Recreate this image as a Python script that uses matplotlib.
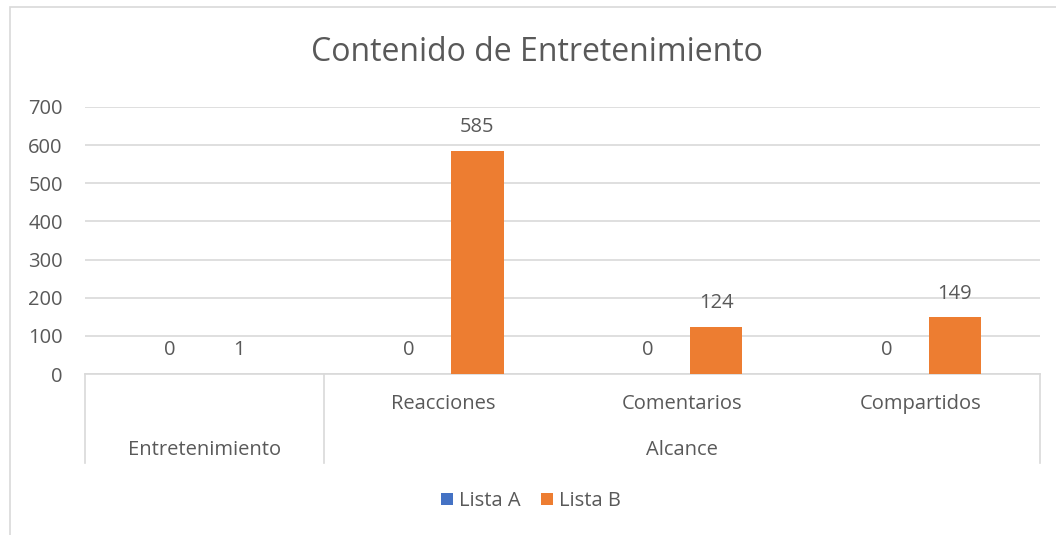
import matplotlib.pyplot as plt
import numpy as np
from matplotlib.patches import Rectangle

plt.rcParams['font.family'] = ['Open Sans', 'DejaVu Sans']

# datos
categorias = ['', 'Reacciones', 'Comentarios', 'Compartidos']
grupos = ['Entretenimiento', 'Alcance']
grupo_inicio = [0, 1]
grupo_fin = [0, 3]
lista_a = [0, 0, 0, 0]
lista_b = [1, 585, 124, 149]

gris = '#595959'
linea = '#D9D9D9'
azul = '#4472C4'
naranja = '#ED7D31'
fs = 14.5

fig = plt.figure(figsize=(10.56, 5.35), dpi=100)
ax = fig.add_axes([85 / 1056, 1 - 374 / 535, 955 / 1056, 267 / 535])

# borde del grafico
fig.patches.append(Rectangle((10 / 1056, -0.1), 1.2, 1.1 - 7 / 535, transform=fig.transFigure,
                             fill=False, edgecolor=linea, linewidth=1.2))

x = np.arange(len(categorias))
ancho = 0.22
desp = 0.143
barras_a = ax.bar(x - desp, lista_a, ancho, color=azul, label='Lista A', zorder=3)
barras_b = ax.bar(x + desp, lista_b, ancho, color=naranja, label='Lista B', zorder=3)

for barras in (barras_a, barras_b):
    for b in barras:
        h = b.get_height()
        ax.annotate(f'{h:g}', (b.get_x() + b.get_width() / 2, h), xytext=(0, 17),
                    textcoords='offset points', ha='center', va='center',
                    fontsize=fs, color=gris)

ax.set_ylim(0, 700)
ax.set_xlim(-0.5, len(categorias) - 0.5)
ax.set_yticks(range(0, 701, 100))
ax.tick_params(axis='y', length=0, labelsize=fs, labelcolor=gris, pad=16)
ax.set_xticks([])
ax.grid(axis='y', color=linea, linewidth=1.2, zorder=0)
for s in ['top', 'right', 'left']:
    ax.spines[s].set_visible(False)
ax.spines['bottom'].set_color(linea)
ax.spines['bottom'].set_linewidth(1.2)

# eje de categorias en dos niveles
tr = ax.get_xaxis_transform()
for xi in [-0.5, 0.5, len(categorias) - 0.5]:
    ax.plot([xi, xi], [0, -0.333], transform=tr, color=linea, linewidth=1.2, clip_on=False)
for xi, c in zip(x, categorias):
    ax.text(xi, -0.112, c, transform=tr, ha='center', va='center', fontsize=fs, color=gris)
for g, i0, i1 in zip(grupos, grupo_inicio, grupo_fin):
    ax.text((i0 + i1) / 2, -0.285, g, transform=tr, ha='center', va='center',
            fontsize=fs, color=gris)

fig.text(537 / 1056, 1 - 52 / 535, 'Contenido de Entretenimiento', ha='center', va='center',
         fontsize=23, color=gris)

fig.legend(loc='center', bbox_to_anchor=(531 / 1056, 1 - 501 / 535), ncol=2, frameon=False,
           fontsize=fs, labelcolor=gris, handlelength=0.6, handleheight=0.6,
           handletextpad=0.3, columnspacing=1.0)

fig.savefig('out.png', dpi=100)
